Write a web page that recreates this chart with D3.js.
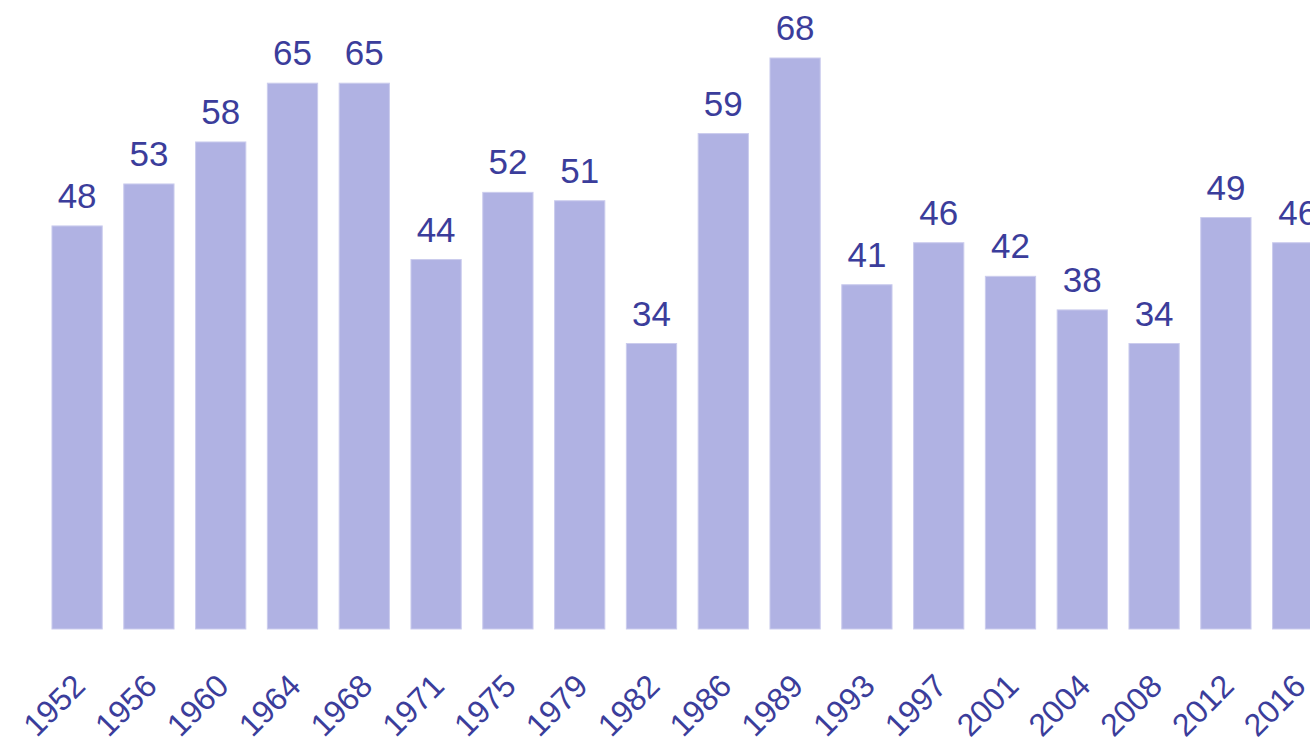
<!DOCTYPE html>
<html>
<head>
<meta charset="utf-8">
<script src="https://cdn.jsdelivr.net/npm/d3@7"></script>
<style>
  html, body { margin: 0; padding: 0; background: #ffffff; overflow: hidden; }
  svg { display: block; }
</style>
</head>
<body>
<svg id="chart" width="1310" height="747"></svg>
<script>
const years = ["1952","1956","1960","1964","1968","1971","1975","1979","1982","1986","1989","1993","1997","2001","2004","2008","2012","2016"];
const values = [48, 53, 58, 65, 65, 44, 52, 51, 34, 59, 68, 41, 46, 42, 38, 34, 49, 46];

const svg = d3.select("#chart");
const barColor = "#b0b2e3";
const textColor = "#3b3d9b";
const font = "'Liberation Sans', Arial, Helvetica, sans-serif";

const x = d3.scaleBand()
  .domain(years)
  .range([41.2, 1333.6])
  .paddingInner(0.3)
  .paddingOuter(0.15);

const y = d3.scaleLinear()
  .domain([0, d3.max(values)])
  .range([629, 58]);

const data = years.map((yr, i) => ({ year: yr, value: values[i] }));

svg.append("g")
  .selectAll("rect")
  .data(data)
  .join("rect")
  .attr("x", d => x(d.year))
  .attr("y", d => y(d.value))
  .attr("width", x.bandwidth())
  .attr("height", d => y(0) - y(d.value))
  .attr("fill", barColor)
  .attr("stroke", "#cbcced")
  .attr("stroke-width", 1);

svg.append("g")
  .selectAll("text")
  .data(data)
  .join("text")
  .attr("x", d => x(d.year) + x.bandwidth() / 2)
  .attr("y", d => y(d.value) - 18)
  .attr("text-anchor", "middle")
  .attr("fill", textColor)
  .style("font-family", font)
  .style("font-size", "35px")
  .text(d => d.value);

const xAxis = svg.append("g")
  .attr("transform", `translate(0,${y(0)})`)
  .call(d3.axisBottom(x).tickSize(0).tickPadding(0));

xAxis.select(".domain").remove();
xAxis.selectAll("text")
  .attr("x", 0)
  .attr("y", 0)
  .attr("dy", 0)
  .attr("transform", "translate(10,59) rotate(-45)")
  .attr("text-anchor", "end")
  .attr("fill", textColor)
  .style("font-family", font)
  .style("font-size", "32px");
</script>
</body>
</html>
